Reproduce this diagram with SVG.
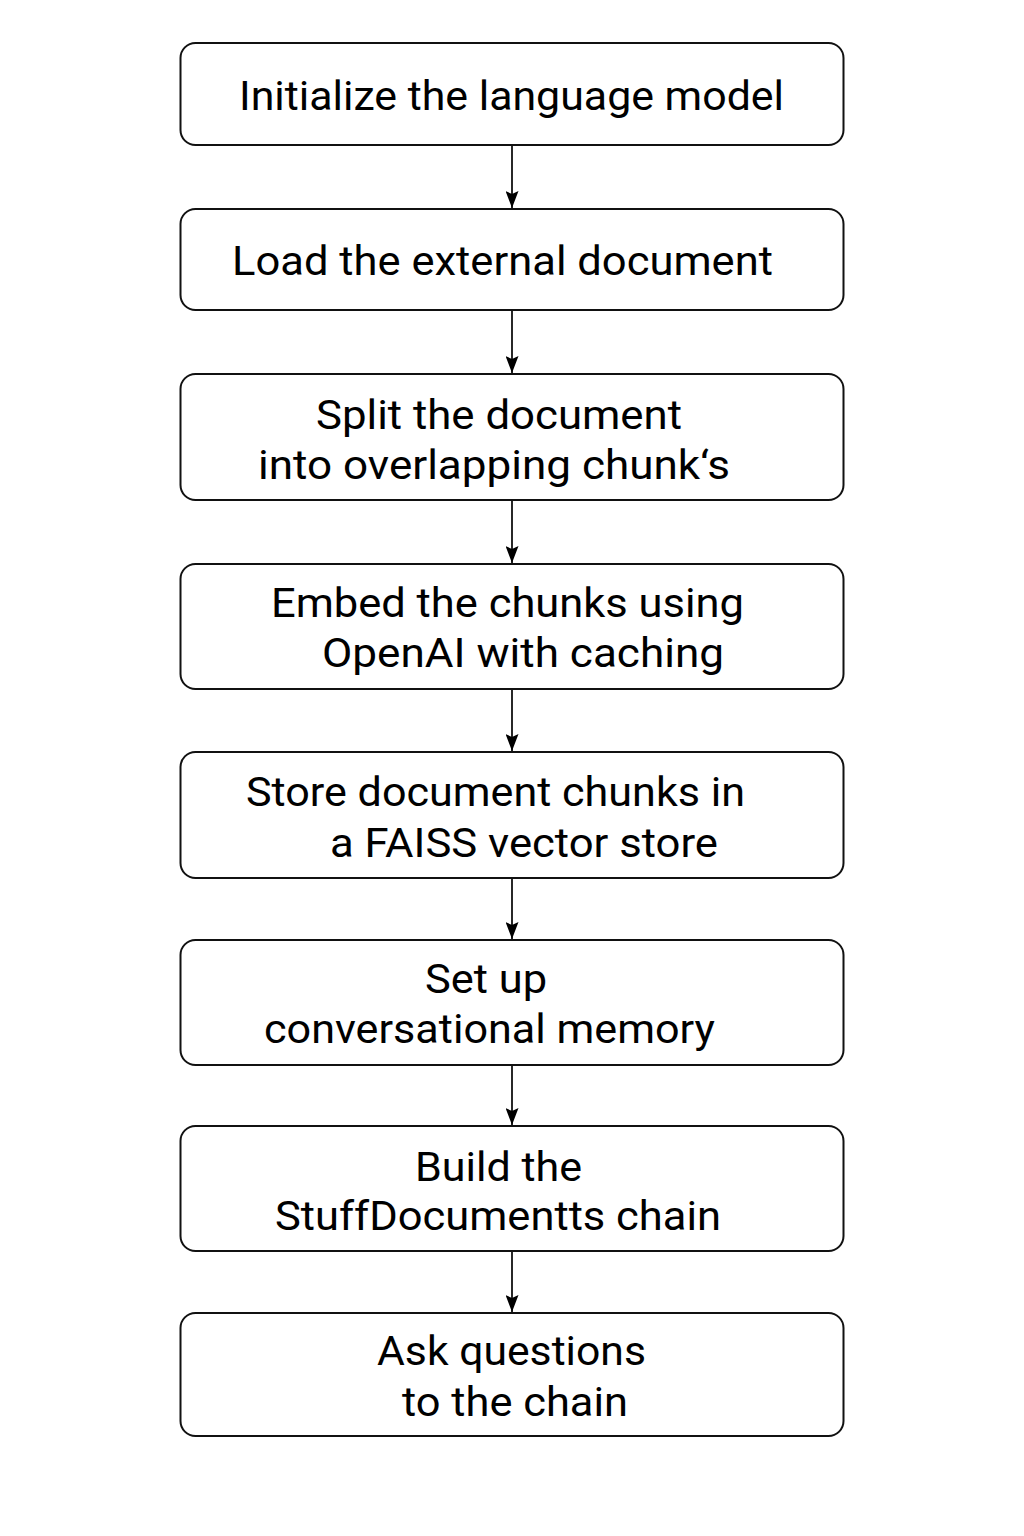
<svg xmlns="http://www.w3.org/2000/svg" width="1024" height="1536" viewBox="0 0 1024 1536">
<style>
.box{fill:#fff;stroke:#111;stroke-width:2}
.t{font-family:Roboto,"Liberation Sans",sans-serif;font-size:40px;fill:#000}
.c{stroke:#111;stroke-width:1.8;fill:none}
</style>
<defs>
<marker id="ah" viewBox="0 0 17 13" refX="17" refY="6.5" markerWidth="17" markerHeight="13" markerUnits="userSpaceOnUse" orient="auto">
<path d="M0,0 L17,6.5 L0,13 L3,6.5 Z" fill="#000"/>
</marker>
</defs>
<rect width="1024" height="1536" fill="#fff"/>
<g id="connectors">
<line class="c" x1="512" y1="145" x2="512" y2="208" marker-end="url(#ah)"/>
<line class="c" x1="512" y1="310" x2="512" y2="373" marker-end="url(#ah)"/>
<line class="c" x1="512" y1="500" x2="512" y2="563" marker-end="url(#ah)"/>
<line class="c" x1="512" y1="689" x2="512" y2="751" marker-end="url(#ah)"/>
<line class="c" x1="512" y1="878" x2="512" y2="939" marker-end="url(#ah)"/>
<line class="c" x1="512" y1="1065" x2="512" y2="1125" marker-end="url(#ah)"/>
<line class="c" x1="512" y1="1251" x2="512" y2="1312" marker-end="url(#ah)"/>
</g>
<g id="n1">
<rect class="box" x="180.5" y="43" width="663" height="102" rx="15"/>
<text class="t" x="239" y="110" textLength="545" lengthAdjust="spacingAndGlyphs">Initialize the language model</text>
</g>
<g id="n2">
<rect class="box" x="180.5" y="209" width="663" height="101" rx="15"/>
<text class="t" x="232" y="275" textLength="541" lengthAdjust="spacingAndGlyphs">Load the external document</text>
</g>
<g id="n3">
<rect class="box" x="180.5" y="374" width="663" height="126" rx="15"/>
<text class="t" x="316" y="429" textLength="366" lengthAdjust="spacingAndGlyphs">Split the document</text>
<text class="t" x="258" y="479" textLength="472" lengthAdjust="spacingAndGlyphs">into overlapping chunk‘s</text>
</g>
<g id="n4">
<rect class="box" x="180.5" y="564" width="663" height="125" rx="15"/>
<text class="t" x="271" y="617" textLength="473" lengthAdjust="spacingAndGlyphs">Embed the chunks using</text>
<text class="t" x="322" y="667" textLength="402" lengthAdjust="spacingAndGlyphs">OpenAI with caching</text>
</g>
<g id="n5">
<rect class="box" x="180.5" y="752" width="663" height="126" rx="15"/>
<text class="t" x="246" y="806" textLength="499" lengthAdjust="spacingAndGlyphs">Store document chunks in</text>
<text class="t" x="330" y="857" textLength="388" lengthAdjust="spacingAndGlyphs">a FAISS vector store</text>
</g>
<g id="n6">
<rect class="box" x="180.5" y="940" width="663" height="125" rx="15"/>
<text class="t" x="425" y="993" textLength="122" lengthAdjust="spacingAndGlyphs">Set up</text>
<text class="t" x="264" y="1043" textLength="451" lengthAdjust="spacingAndGlyphs">conversational memory</text>
</g>
<g id="n7">
<rect class="box" x="180.5" y="1126" width="663" height="125" rx="15"/>
<text class="t" x="415" y="1181" textLength="167" lengthAdjust="spacingAndGlyphs">Build the</text>
<text class="t" x="275" y="1230" textLength="446" lengthAdjust="spacingAndGlyphs">StuffDocumentts chain</text>
</g>
<g id="n8">
<rect class="box" x="180.5" y="1313" width="663" height="123" rx="15"/>
<text class="t" x="377" y="1365" textLength="269" lengthAdjust="spacingAndGlyphs">Ask questions</text>
<text class="t" x="402" y="1416" textLength="226" lengthAdjust="spacingAndGlyphs">to the chain</text>
</g>
</svg>
